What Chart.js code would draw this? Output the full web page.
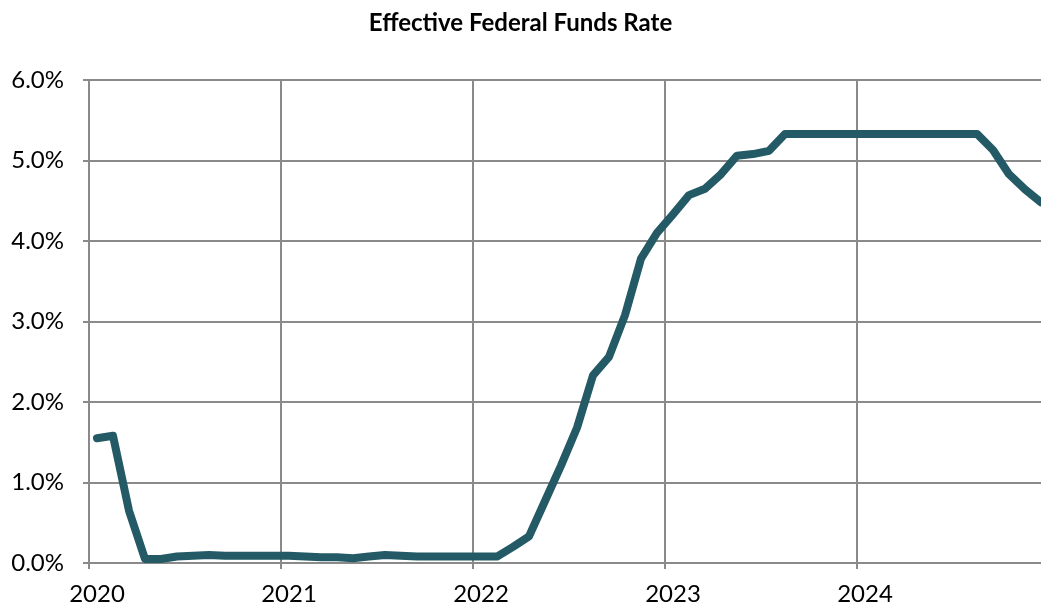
<!DOCTYPE html>
<html>
<head>
<meta charset="utf-8">
<script src="https://cdn.jsdelivr.net/npm/chart.js@4"></script>
<style>
  html, body { margin: 0; padding: 0; background: #fff; }
  #wrap { width: 1041px; height: 609px; }
</style>
</head>
<body>
<div id="wrap"><canvas id="chart"></canvas></div>
<script>
// monthly effective fed funds rate, Jan 2020 - Dec 2024 (%)
const years = ['2020', '2021', '2022', '2023', '2024'];
const rate2020 = [1.55, 1.58, 0.65, 0.05, 0.05, 0.08, 0.09, 0.10, 0.09, 0.09, 0.09, 0.09];
const rate2021 = [0.09, 0.08, 0.07, 0.07, 0.06, 0.08, 0.10, 0.09, 0.08, 0.08, 0.08, 0.08];
const rate2022 = [0.08, 0.08, 0.20, 0.33, 0.77, 1.21, 1.68, 2.33, 2.56, 3.08, 3.78, 4.10];
const rate2023 = [4.33, 4.57, 4.65, 4.83, 5.06, 5.08, 5.12, 5.33, 5.33, 5.33, 5.33, 5.33];
const rate2024 = [5.33, 5.33, 5.33, 5.33, 5.33, 5.33, 5.33, 5.33, 5.13, 4.83, 4.64, 4.48];

const rates = [...rate2020, ...rate2021, ...rate2022, ...rate2023, ...rate2024];
// each month sits in the middle of its slot on the date axis
const points = rates.map((v, i) => ({ x: i + 0.5, y: v }));

const gridColor = '#8a8a8a';
const font = { family: 'Lato, "Open Sans", sans-serif', size: 24 };

new Chart(document.getElementById('chart').getContext('2d'), {
  type: 'line',
  data: {
    datasets: [
      {
        data: points,
        borderColor: '#235A65',
        borderWidth: 8,
        tension: 0,
        pointRadius: 0,
        borderCapStyle: 'round',
        borderJoinStyle: 'round',
        fill: false,
      },
    ],
  },
  options: {
    responsive: true,
    maintainAspectRatio: false,
    animation: false,
    layout: { padding: 0 },
    plugins: {
      legend: { display: false },
      tooltip: { enabled: false },
      title: {
        display: true,
        text: 'Effective Federal Funds Rate',
        color: '#000',
        font: { family: 'Lato, "Open Sans", sans-serif', size: 24, weight: 'bold', lineHeight: 1.2 },
        padding: { top: 9, bottom: 42.2 },
      },
    },
    scales: {
      x: {
        type: 'linear',
        min: 0,
        max: 59.5,
        afterBuildTicks: (scale) => {
          scale.ticks = years.map((_, i) => ({ value: i * 12 }));
        },
        afterFit: (scale) => { scale.height = 46; },
        ticks: {
          color: '#000',
          font: font,
          padding: 11,
          labelOffset: 8, // year label sits under January, not on the gridline
          maxRotation: 0,
          autoSkip: false,
          callback: (v) => years[v / 12],
        },
        grid: { color: gridColor, lineWidth: 2, tickLength: 6 },
        border: { color: gridColor, width: 2 },
      },
      y: {
        min: 0,
        max: 6,
        afterFit: (scale) => { scale.width = 89; },
        ticks: {
          stepSize: 1,
          color: '#000',
          font: font,
          padding: 19,
          callback: (v) => v.toFixed(1) + '%',
        },
        grid: { color: gridColor, lineWidth: 2, tickLength: 6 },
        border: { color: gridColor, width: 2 },
      },
    },
  },
});
</script>
</body>
</html>
